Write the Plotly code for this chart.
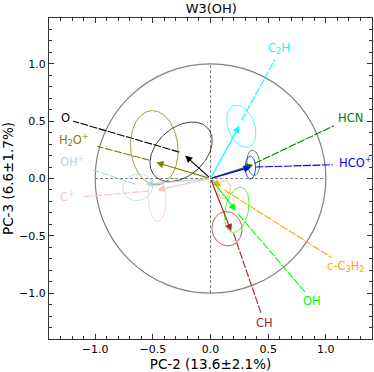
import numpy as np
import plotly.graph_objects as go

# loadings on PC-2 / PC-3 for W3(OH)
species = ["O", "H2O+", "OH+", "C+", "C2H", "HCN", "HCO+", "c-C3H2", "OH", "CH"]
labels = ["O", "H<sub>2</sub>O<sup>+</sup>", "OH<sup>+</sup>", "C<sup>+</sup>", "C<sub>2</sub>H",
          "HCN", "HCO<sup>+</sup>", "c-C<sub>3</sub>H<sub>2</sub>", "OH", "CH"]
colors = ["black", "olive", "lightblue", "pink", "cyan", "green", "blue", "orange", "lime", "brown"]

tip_x = [-0.22, -0.47, -0.56, -0.46, 0.25, 0.37, 0.35, 0.09, 0.22, 0.18]
tip_y = [0.20, 0.14, -0.05, -0.10, 0.46, 0.12, 0.10, -0.07, -0.28, -0.46]

# label leader lines
line_x0 = [-0.27, -0.53, -0.65, -0.53, 0.27, 0.38, 0.39, 0.12, 0.24, 0.20]
line_y0 = [0.23, 0.16, -0.05, -0.11, 0.51, 0.13, 0.10, -0.10, -0.31, -0.48]
line_x1 = [-1.19, -0.98, -1.02, -1.11, 0.56, 1.07, 1.06, 1.05, 0.82, 0.44]
line_y1 = [0.50, 0.28, 0.075, -0.16, 1.04, 0.46, 0.12, -0.69, -0.99, -1.18]

label_x = [-1.26, -1.18, -1.20, -1.24, 0.59, 1.21, 1.25, 1.17, 0.88, 0.47]
label_y = [0.53, 0.335, 0.145, -0.16, 1.13, 0.53, 0.14, -0.77, -1.07, -1.26]

# bootstrap uncertainty ellipses
ell_cx = [-0.255, -0.487, -0.63, -0.463, 0.267, 0.371, 0.346, 0.117, 0.228, 0.143]
ell_cy = [0.233, 0.268, -0.076, -0.173, 0.455, 0.137, 0.096, -0.097, -0.274, -0.438]
ell_a = [0.31, 0.325, 0.13, 0.20, 0.19, 0.11, 0.10, 0.077, 0.20, 0.15]
ell_b = [0.21, 0.205, 0.115, 0.077, 0.115, 0.055, 0.045, 0.054, 0.10, 0.13]
ell_ang = [42, 95, 20, 92, 110, 95, 90, 80, 78, 100]

FONT = "DejaVu Sans"

fig = go.Figure()

# unit circle + dashed axes
fig.add_shape(type="circle", x0=-1, y0=-1, x1=1, y1=1, line=dict(color="gray", width=1.2), layer="below")
fig.add_shape(type="line", x0=-1, y0=0, x1=1, y1=0, line=dict(color="gray", width=1, dash="3px,2px"), layer="below")
fig.add_shape(type="line", x0=0, y0=-1, x1=0, y1=1, line=dict(color="gray", width=1, dash="3px,2px"), layer="below")

t = np.linspace(0, 2 * np.pi, 120)
for i in range(len(species)):
    th = np.deg2rad(ell_ang[i])
    ex = ell_cx[i] + ell_a[i] * np.cos(t) * np.cos(th) - ell_b[i] * np.sin(t) * np.sin(th)
    ey = ell_cy[i] + ell_a[i] * np.cos(t) * np.sin(th) + ell_b[i] * np.sin(t) * np.cos(th)
    fig.add_trace(go.Scatter(x=ex, y=ey, mode="lines", line=dict(color=colors[i], width=1),
                             opacity=0.75, hoverinfo="skip", showlegend=False))
    fig.add_trace(go.Scatter(x=[line_x0[i], line_x1[i]], y=[line_y0[i], line_y1[i]], mode="lines",
                             line=dict(color=colors[i], width=1.1, dash="8px,1.5px"),
                             hoverinfo="skip", showlegend=False))
    fig.add_annotation(x=tip_x[i], y=tip_y[i], ax=0, ay=0, xref="x", yref="y", axref="x", ayref="y",
                       text="", showarrow=True, arrowhead=2, arrowsize=1.2, arrowwidth=1.2,
                       arrowcolor=colors[i])
    fig.add_annotation(x=label_x[i], y=label_y[i], text=labels[i], showarrow=False,
                       font=dict(family=FONT, size=11.5, color=colors[i]))

axis_style = dict(range=[-1.4, 1.4], tickvals=[-1.0, -0.5, 0.0, 0.5, 1.0], tickformat=".1f",
                  ticks="inside", ticklen=5, tickcolor="#333", showline=True, linecolor="#333",
                  linewidth=1.2, mirror="allticks", showgrid=False, zeroline=False, automargin=False,
                  tickfont=dict(family=FONT, size=11, color="black"),
                  minor=dict(dtick=0.1, tick0=0, ticks="inside", ticklen=2.5, tickcolor="#333"))

fig.update_xaxes(**axis_style, title=dict(text="PC-2 (13.6±2.1%)", standoff=0,
                                          font=dict(family=FONT, size=13.5, color="black")))
fig.update_yaxes(**axis_style, title=dict(text="PC-3 (6.6±1.7%)", standoff=4,
                                          font=dict(family=FONT, size=13.5, color="black")))

fig.update_layout(
    width=374, height=372,
    margin=dict(l=49, r=2, t=18, b=33),
    plot_bgcolor="white", paper_bgcolor="white",
    title=dict(text="W3(OH)", x=0.565, xanchor="center", y=0.978, yanchor="middle", yref="container",
               font=dict(family=FONT, size=13, color="black")),
    font=dict(family=FONT),
)

# drop the page's default 8px body margin so the figure fills the window
fig.write_html("out.html", config={"displayModeBar": False},
               post_script="document.body.style.margin='0px';")
